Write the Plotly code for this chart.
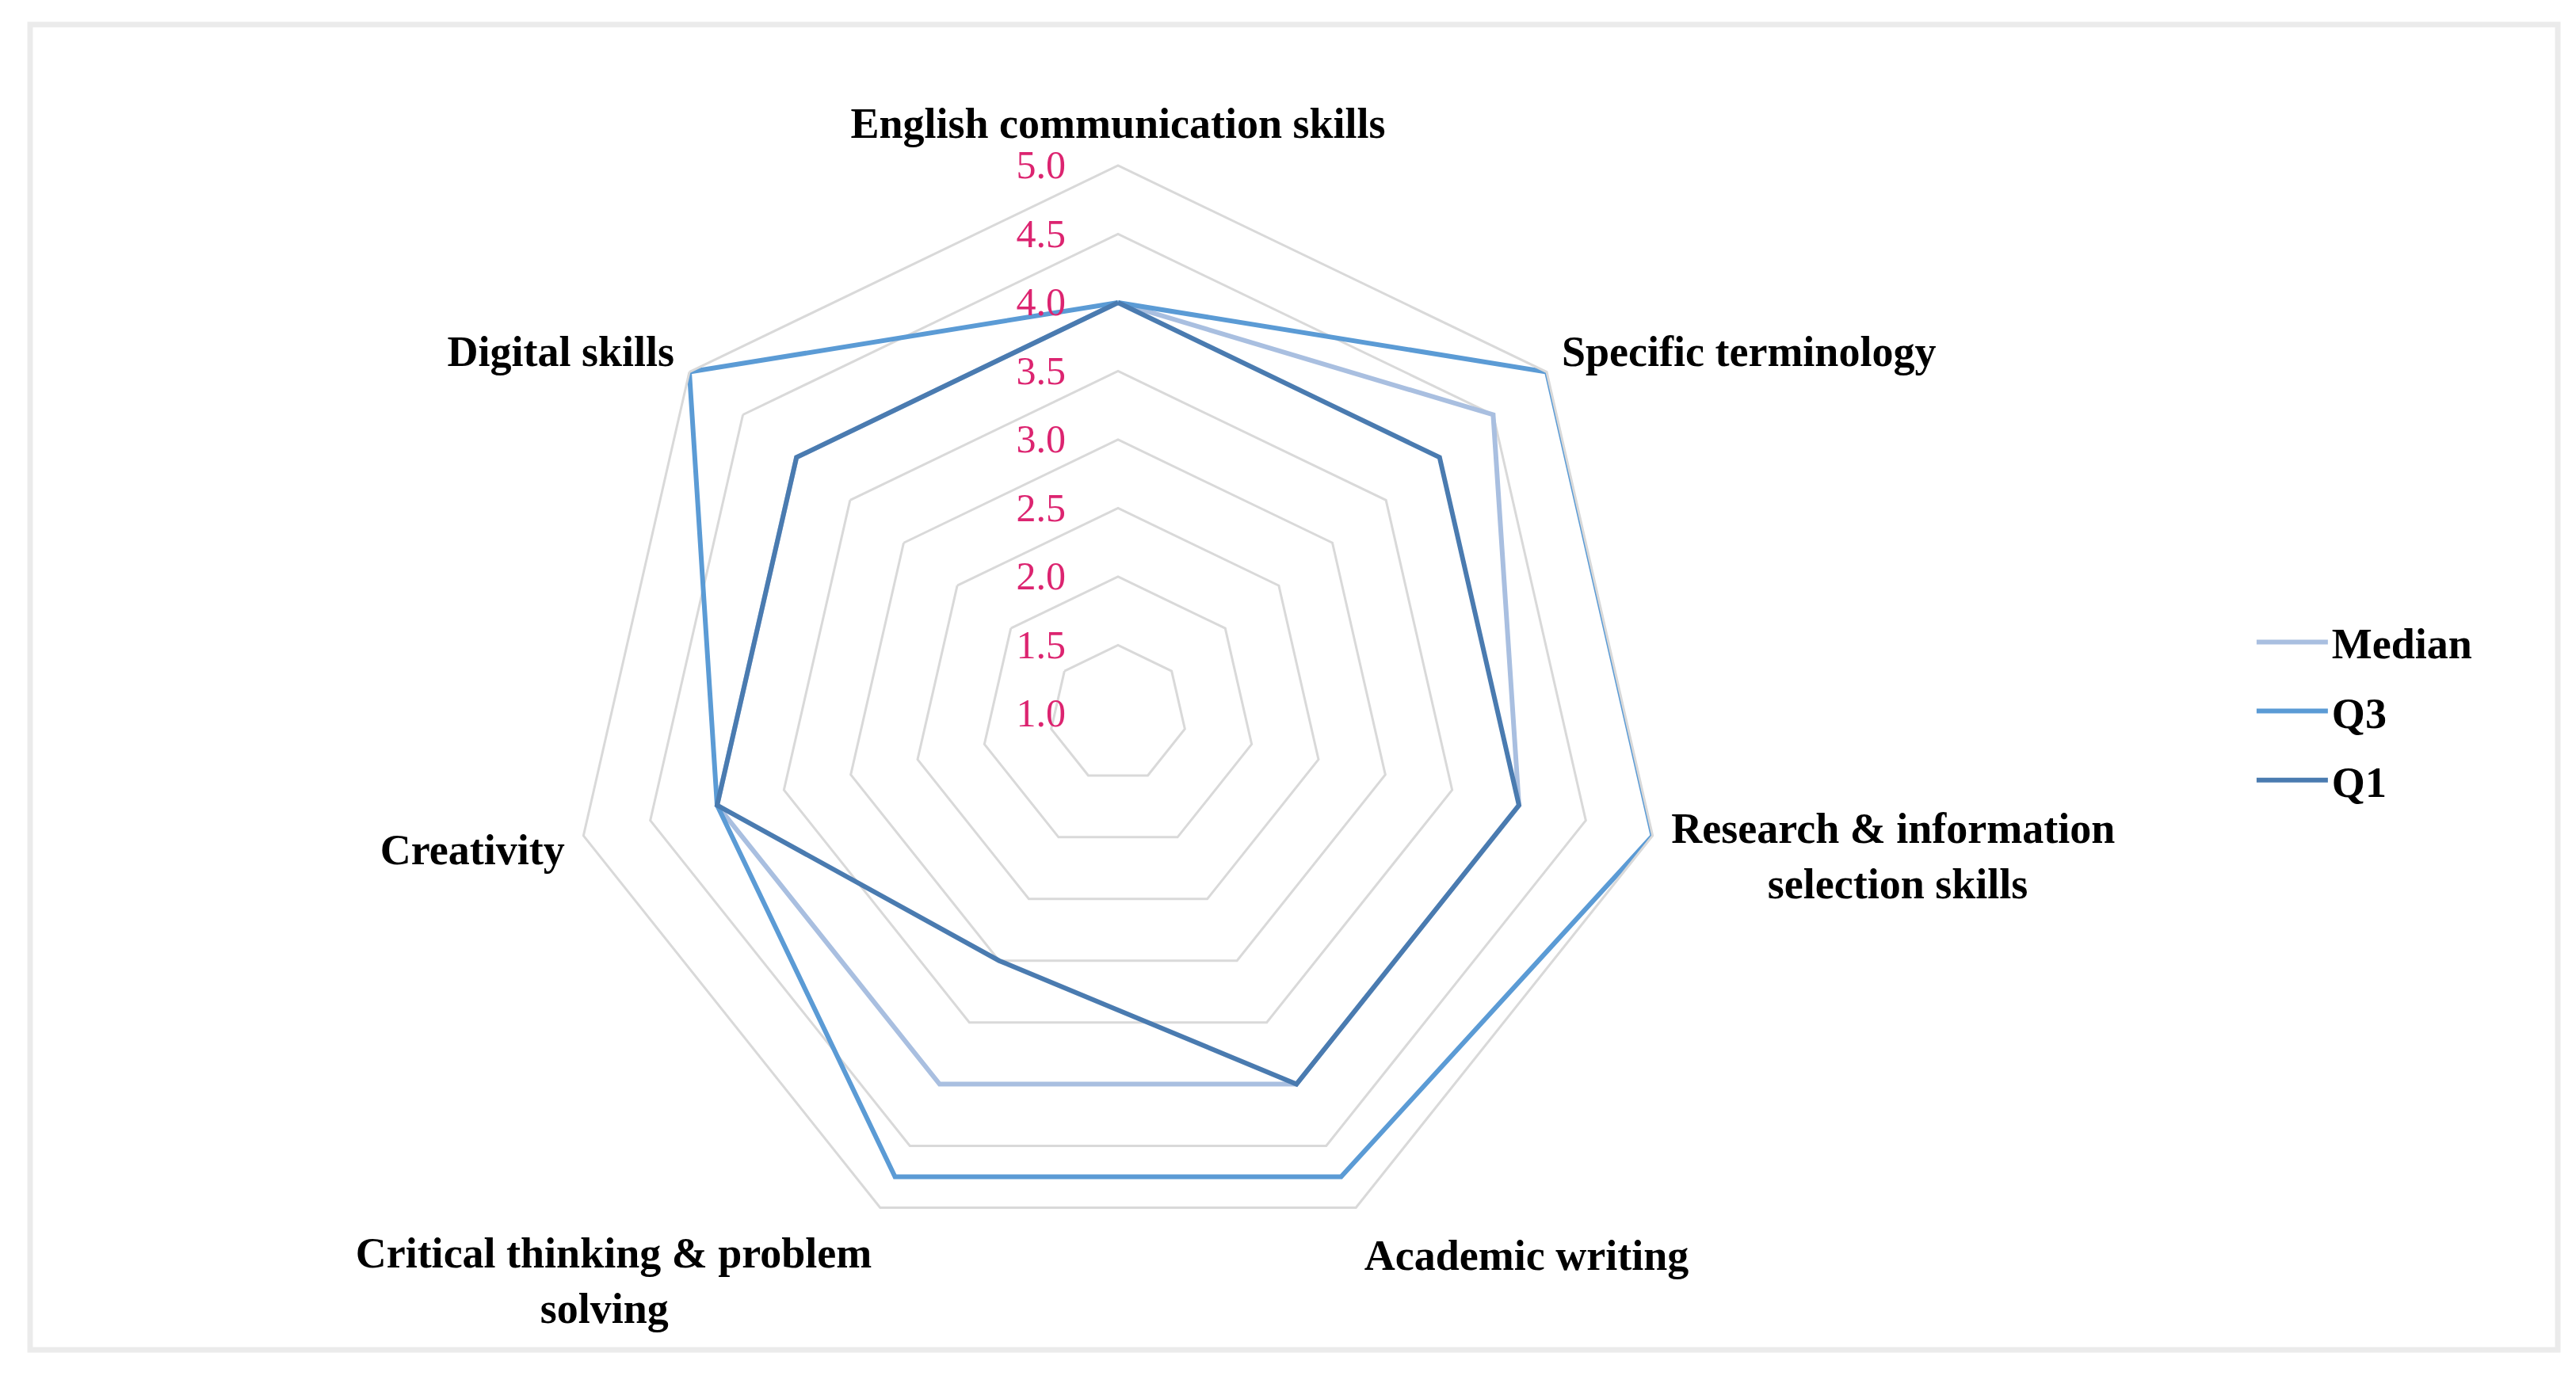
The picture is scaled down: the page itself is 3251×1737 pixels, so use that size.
import plotly.graph_objects as go

NB = "\u00a0"

# Skill categories, clockwise from the top (nbsp padding mimics centred two-line labels)
CATEGORIES = [
    "English communication skills",
    "Specific terminology",
    "Research & information<br>" + NB * 9 + "selection skills",
    "Academic writing",
    "Critical thinking & problem<br>solving" + NB * 19,
    "Creativity",
    "Digital skills",
]

MEDIAN = [4.0, 4.5, 4.0, 4.0, 4.0, 4.0, 4.0]
Q3 = [4.0, 5.0, 5.0, 4.75, 4.75, 4.0, 5.0]
Q1 = [4.0, 4.0, 4.0, 4.0, 3.0, 4.0, 4.0]

SERIES = [("Median", MEDIAN, "#A9BFE0"), ("Q3", Q3, "#5B9BD5"), ("Q1", Q1, "#4A7BB0")]

FONT = "Liberation Serif, Times New Roman, serif"
W, H = 3251, 1737

fig = go.Figure()
for name, values, color in SERIES:
    # repeat first point so the polygon closes
    fig.add_scatterpolar(
        r=values + values[:1],
        theta=CATEGORIES + CATEGORIES[:1],
        mode="lines",
        name=name,
        legendgroup=name,
        line=dict(color=color, width=6),
    )

cx, cy, rad = 1403, 893, 692
fig.update_layout(
    width=W,
    height=H,
    margin=dict(l=0, r=0, t=0, b=0),
    paper_bgcolor="white",
    font=dict(family=FONT, color="black"),
    polar=dict(
        domain=dict(
            x=[(cx - rad) / W, (cx + rad) / W],
            y=[1 - (cy + rad) / H, 1 - (cy - rad) / H],
        ),
        bgcolor="white",
        gridshape="linear",
        radialaxis=dict(
            range=[1, 5],
            tick0=1,
            dtick=0.5,
            tickformat=".1f",
            angle=90,
            tickangle=90,
            side="counterclockwise",
            showline=False,
            ticks="outside",
            ticklen=48,
            tickcolor="rgba(0,0,0,0)",
            gridcolor="#D9D9D9",
            gridwidth=3,
            tickfont=dict(family=FONT, size=50, color="#DC2470"),
        ),
        angularaxis=dict(
            direction="clockwise",
            rotation=90,
            showgrid=False,
            showline=True,
            linecolor="#D9D9D9",
            linewidth=3,
            ticks="outside",
            ticklen=12,
            tickcolor="rgba(0,0,0,0)",
            tickfont=dict(family=FONT, size=54, color="black", weight="bold"),
        ),
    ),
    legend=dict(
        x=0.872,
        y=0.562,
        xanchor="left",
        yanchor="top",
        itemwidth=90,
        font=dict(family=FONT, size=54, color="black", weight="bold"),
        bgcolor="rgba(0,0,0,0)",
        tracegroupgap=14,
    ),
    shapes=[
        dict(
            type="rect",
            xref="paper",
            yref="paper",
            x0=30 / W,
            x1=3220 / W,
            y0=1 - 1696 / H,
            y1=1 - 23 / H,
            line=dict(color="#EBEBEB", width=7),
        )
    ],
)

fig.write_html("out.html")
